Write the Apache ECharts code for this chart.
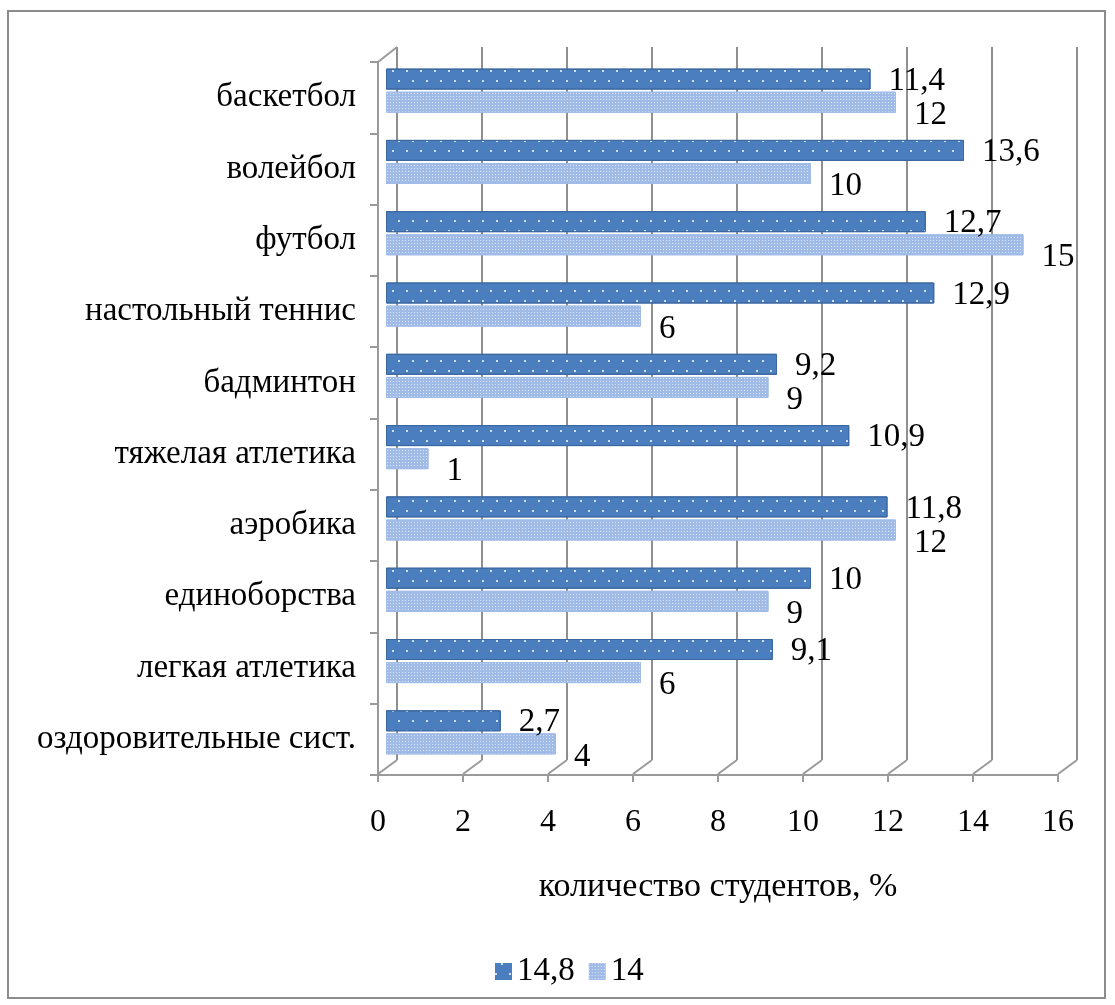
<!DOCTYPE html>
<html>
<head>
<meta charset="utf-8">
<script src="https://cdn.jsdelivr.net/npm/echarts@6/dist/echarts.min.js"></script>
<style>
html,body{margin:0;padding:0;background:#fff;}
#frame{position:absolute;left:7px;top:10px;width:1099px;height:989px;border:2px solid #8c8c8c;box-sizing:border-box;}
#chart{position:absolute;left:0;top:0;width:1115px;height:1005px;}
</style>
</head>
<body>
<div id="frame"></div>
<div id="chart"></div>
<script>
const categories = ['баскетбол','волейбол','футбол','настольный теннис','бадминтон','тяжелая атлетика','аэробика','единоборства','легкая атлетика','оздоровительные сист.'];
const seriesNames = ['14,8','14'];
const values148 = [11.4, 13.6, 12.7, 12.9, 9.2, 10.9, 11.8, 10, 9.1, 2.7];
const values14 = [12, 10, 15, 6, 9, 1, 12, 9, 6, 4];
const xTicks = [0,2,4,6,8,10,12,14,16];
const axisTitle = 'количество студентов, %';

const FONT = '"Liberation Serif","Times New Roman",serif';
const chart = echarts.init(document.getElementById('chart'));
const fmt = p => String(p.value).replace('.', ',');

const darkDecal = {symbol: 'rect', symbolSize: 1, color: 'rgba(255,255,255,0.75)',
                   dashArrayX: [[2, 12], [0, 6, 2, 6]], dashArrayY: [2, 8]};
const lightDecal = {symbol: 'rect', symbolSize: 1, color: 'rgba(255,255,255,0.6)',
                    dashArrayX: [1, 2], dashArrayY: [1, 2]};

const option = {
  animation: false,
  grid: [
    {left: 378, top: 62, width: 680, height: 713},   // front: labels
    {left: 397, top: 47, width: 680, height: 713},   // back wall
    {left: 386, top: 55, width: 680, height: 713}    // bars
  ],
  xAxis: [
    {gridIndex: 0, type: 'value', min: 0, max: 16, interval: 2,
     axisLine: {show: true, lineStyle: {color: '#9a9a9a', width: 2}},
     axisTick: {show: true, length: 7, lineStyle: {color: '#9a9a9a', width: 2}},
     splitLine: {show: false},
     axisLabel: {color: '#000', fontFamily: FONT, fontSize: 32, margin: 32},
     name: axisTitle, nameLocation: 'middle', nameGap: 95,
     nameTextStyle: {color: '#000', fontFamily: FONT, fontSize: 34}},
    {gridIndex: 1, type: 'value', min: 0, max: 16, interval: 2,
     axisLine: {show: false}, axisTick: {show: false}, axisLabel: {show: false},
     splitLine: {show: true, lineStyle: {color: '#8f8f8f', width: 2}}},
    {gridIndex: 2, type: 'value', min: 0, max: 16, interval: 2, show: false}
  ],
  yAxis: [
    {gridIndex: 0, type: 'category', data: categories, inverse: true,
     axisLine: {show: true, lineStyle: {color: '#9a9a9a', width: 2}},
     axisTick: {show: true, length: 8, lineStyle: {color: '#9a9a9a', width: 2}},
     axisLabel: {color: '#000', fontFamily: FONT, fontSize: 33, margin: 22}},
    {gridIndex: 1, type: 'category', data: categories, inverse: true,
     axisLine: {show: false}, axisTick: {show: false}, axisLabel: {show: false}},
    {gridIndex: 2, type: 'category', data: categories, inverse: true, show: false}
  ],
  legend: {
    left: 490, top: 950, itemWidth: 17, itemHeight: 17, itemGap: 14,
    textStyle: {color: '#000', fontFamily: FONT, fontSize: 33},
    data: [
      {name: seriesNames[0], icon: 'rect', itemStyle: {borderWidth: 0}},
      {name: seriesNames[1], icon: 'rect', itemStyle: {borderWidth: 0}}
    ]
  },
  series: [
    {
      type: 'custom', xAxisIndex: 0, yAxisIndex: 0, silent: true, z: 1,
      data: xTicks.map(v => [v, 0]),
      renderItem: function (params, api) {
        const cs = params.coordSys;
        const x = api.coord([api.value(0), 0])[0];
        const yb = cs.y + cs.height;
        const st = {stroke: '#9a9a9a', lineWidth: 2, fill: null};
        const children = [{type: 'line', shape: {x1: x, y1: yb - 1, x2: x + 19, y2: yb - 15}, style: st}];
        if (api.value(0) === 0) {
          children.push({type: 'line', shape: {x1: x, y1: cs.y, x2: x + 19, y2: cs.y - 15}, style: st});
        }
        return {type: 'group', children: children};
      }
    },
    {
      name: seriesNames[0], type: 'bar', xAxisIndex: 2, yAxisIndex: 2, z: 3,
      data: values148, barWidth: 21, barGap: '10%',
      itemStyle: {color: '#4a7ebf', borderColor: '#3a679f', borderWidth: 1, decal: darkDecal},
      label: {show: true, position: 'right', distance: 18, offset: [0, 2], formatter: fmt,
              color: '#000', fontFamily: FONT, fontSize: 33}
    },
    {
      name: seriesNames[1], type: 'bar', xAxisIndex: 2, yAxisIndex: 2, z: 3,
      data: values14, barWidth: 21,
      itemStyle: {color: '#9fbbe6', borderColor: '#9fbbe6', borderWidth: 1, decal: lightDecal},
      label: {show: true, position: 'right', distance: 18, offset: [0, 13], formatter: fmt,
              color: '#000', fontFamily: FONT, fontSize: 33}
    }
  ]
};
chart.setOption(option);
</script>
</body>
</html>
